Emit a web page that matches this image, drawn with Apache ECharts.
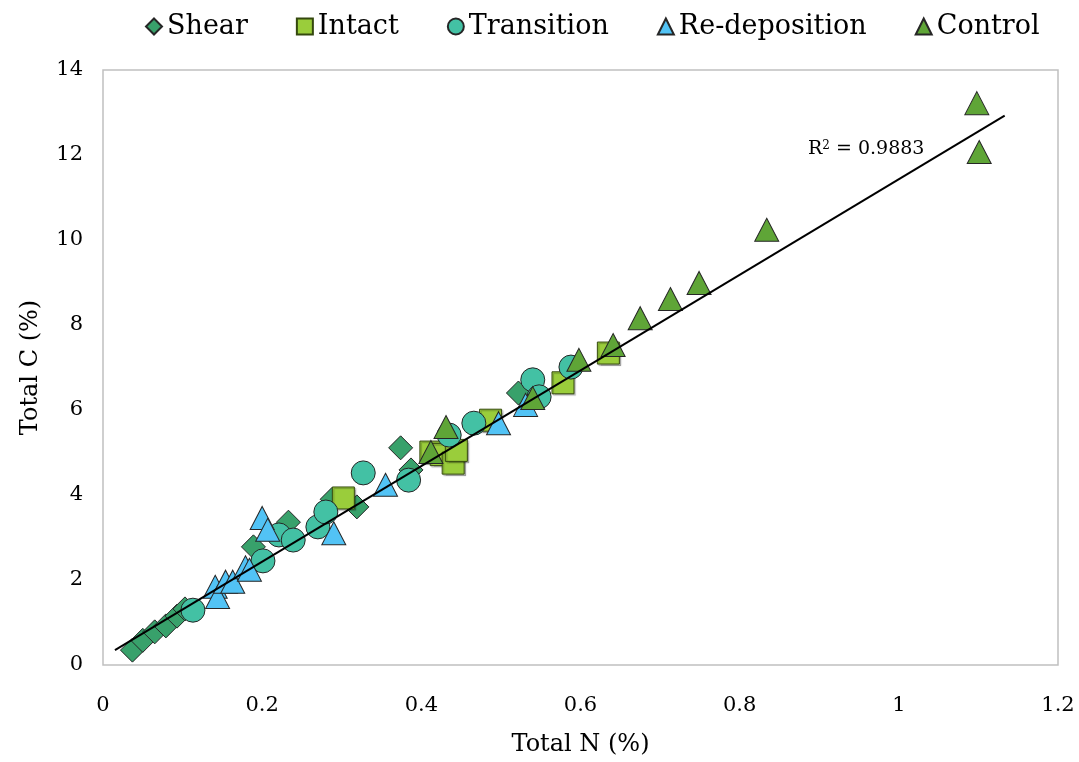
<!DOCTYPE html>
<html>
<head>
<meta charset="utf-8">
<script src="https://cdn.jsdelivr.net/npm/echarts@6/dist/echarts.min.js"></script>
<style>
  html, body { margin: 0; padding: 0; background: #fff; }
  #chart { width: 1079px; height: 762px; }
</style>
</head>
<body>
<div id="chart"></div>
<script>
// Total N (%), Total C (%) pairs
const shear = [
  [0.037, 0.35], [0.050, 0.58], [0.065, 0.78], [0.079, 0.92], [0.093, 1.15], [0.103, 1.32],
  [0.189, 2.78], [0.233, 3.36], [0.288, 3.90], [0.319, 3.72], [0.374, 5.11], [0.387, 4.59],
  [0.522, 6.40]
]
const intact = [
  [0.302, 3.93], [0.412, 5.01], [0.425, 4.95], [0.440, 4.75], [0.444, 5.05],
  [0.487, 5.76], [0.578, 6.64], [0.635, 7.34]
]
const transition = [
  [0.113, 1.29], [0.201, 2.45], [0.221, 3.06], [0.239, 2.94], [0.270, 3.25], [0.280, 3.60],
  [0.327, 4.52], [0.384, 4.35], [0.435, 5.41], [0.466, 5.69], [0.540, 6.71], [0.548, 6.31],
  [0.588, 7.01]
]
const redeposition = [
  [0.141, 1.84], [0.144, 1.60], [0.154, 1.96], [0.163, 1.96], [0.179, 2.30], [0.184, 2.24],
  [0.200, 3.46], [0.207, 3.18], [0.290, 3.10], [0.355, 4.24], [0.497, 5.69], [0.531, 6.12]
]
const control = [
  [0.412, 5.01], [0.431, 5.60], [0.540, 6.28], [0.598, 7.18], [0.641, 7.53], [0.675, 8.16],
  [0.713, 8.61], [0.749, 8.99], [0.834, 10.24], [1.098, 13.22], [1.101, 12.07]
]

// linear trend line (all points)
const trendSlope = 11.25
const trendIntercept = 0.18
const trendN = [0.015, 1.133]
const rSquared = '0.9883'

const xTicks = { min: 0, max: 1.2, interval: 0.2 }
const yTicks = { min: 0, max: 14, interval: 2 }

const FONT = 'DejaVu Serif'
const edge = '#262626'

const chart = echarts.init(document.getElementById('chart'))

function scatter(name, data, symbol, size, color, border) {
  return {
    name: name,
    type: 'scatter',
    data: data,
    symbol: symbol,
    symbolSize: size,
    itemStyle: {
      color: color,
      borderColor: border || edge,
      borderWidth: 1,
      opacity: 1
    },
    emphasis: { disabled: true }
  }
}

const intactSeries = scatter('Intact', intact, 'rect', 22, '#9acd3b', '#34480e')
intactSeries.itemStyle.shadowColor = 'rgba(0,0,0,0.25)'
intactSeries.itemStyle.shadowOffsetX = 1.5
intactSeries.itemStyle.shadowOffsetY = 1.5
intactSeries.itemStyle.shadowBlur = 1

chart.setOption({
  animation: false,
  backgroundColor: '#fff',
  legend: {
    top: 8,
    left: 140,
    itemWidth: 16,
    itemHeight: 16,
    itemGap: 48,
    textStyle: { fontFamily: FONT, fontSize: 27, color: '#000' },
    data: [
      { name: 'Shear', icon: 'diamond' },
      { name: 'Intact', icon: 'rect' },
      { name: 'Transition', icon: 'circle' },
      { name: 'Re-deposition', icon: 'triangle' },
      { name: 'Control', icon: 'triangle' }
    ]
  },
  grid: {
    left: 103,
    right: 21,
    top: 70,
    bottom: 97,
    show: true,
    borderColor: '#c0c0c0',
    borderWidth: 1.5
  },
  xAxis: {
    type: 'value',
    min: xTicks.min,
    max: xTicks.max,
    interval: xTicks.interval,
    name: 'Total N (%)',
    nameLocation: 'middle',
    nameGap: 68,
    nameTextStyle: { fontFamily: FONT, fontSize: 24, color: '#000' },
    axisLine: { show: false },
    axisTick: { show: false },
    splitLine: { show: false },
    axisLabel: {
      fontFamily: FONT, fontSize: 21, color: '#000', margin: 30,
      formatter: v => String(Math.round(v * 10) / 10)
    }
  },
  yAxis: {
    type: 'value',
    min: yTicks.min,
    max: yTicks.max,
    interval: yTicks.interval,
    name: 'Total C (%)',
    nameLocation: 'middle',
    nameGap: 60,
    nameTextStyle: { fontFamily: FONT, fontSize: 24, color: '#000' },
    axisLine: { show: false },
    axisTick: { show: false },
    splitLine: { show: false },
    axisLabel: { fontFamily: FONT, fontSize: 21, color: '#000', margin: 20 }
  },
  graphic: [{
    type: 'text',
    left: 808,
    top: 140,
    style: {
      text: '{r|R}{s|2}{r| = ' + rSquared + '}',
      rich: {
        r: { fontFamily: FONT, fontSize: 19, fill: '#000', verticalAlign: 'bottom' },
        s: { fontFamily: FONT, fontSize: 12, fill: '#000', verticalAlign: 'top' }
      }
    }
  }],
  series: [
    scatter('Shear', shear, 'diamond', 24, '#38a16b'),
    intactSeries,
    scatter('Transition', transition, 'circle', 24, '#43c1a4'),
    scatter('Re-deposition', redeposition, 'triangle', [24, 23], '#52c3f5'),
    scatter('Control', control, 'triangle', [24, 23], '#5fa537'),
    {
      name: 'trend',
      type: 'line',
      data: trendN.map(n => [n, trendSlope * n + trendIntercept]),
      symbol: 'none',
      silent: true,
      z: 3,
      lineStyle: { color: '#000', width: 2 }
    }
  ]
})
</script>
</body>
</html>
